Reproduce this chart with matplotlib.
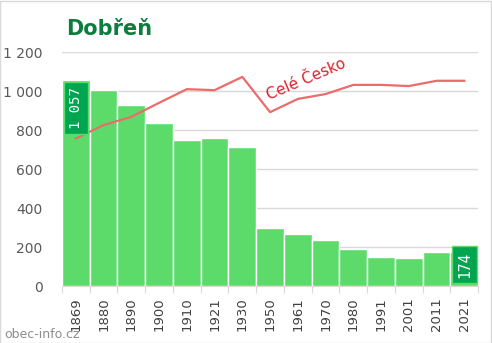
import matplotlib.pyplot as plt
from matplotlib.patches import Rectangle

years = ["1869", "1880", "1890", "1900", "1910", "1921", "1930", "1950",
         "1961", "1970", "1980", "1991", "2001", "2011", "2021"]
population = [1057, 1005, 930, 837, 749, 759, 713, 299,
              265, 237, 188, 150, 145, 173, 174]
# whole country, rescaled to the municipality
cesko = [757, 826, 868, 940, 1010, 1005, 1073, 892,
         960, 985, 1032, 1032, 1026, 1053, 1053]
yticks = [0, 200, 400, 600, 800, 1000, 1200]
ytick_labels = ["0", "200", "400", "600", "800", "1 000", "1 200"]

fig = plt.figure(figsize=(4.92, 3.43), dpi=100)
ax = fig.add_axes([0.126, 0.166, 0.846, 0.682])

x = list(range(len(years)))
ax.bar(x, population, width=1.0, color="#5cdb6a", edgecolor="white", linewidth=1, zorder=2)
ax.plot(x, cesko, color="#ec6b6b", linewidth=1.6, zorder=3, clip_on=False)

ax.set_xlim(-0.5, len(years) - 0.5)
ax.set_ylim(0, 1200)
ax.set_yticks(yticks)
ax.set_yticklabels(ytick_labels)
ax.grid(axis="y", color="#d9d9d9", linewidth=1, zorder=0)
ax.set_axisbelow(True)

ax.set_xticks([i - 0.5 for i in range(len(years) + 1)], minor=False)
ax.set_xticklabels([])
ax.set_xticks(x, minor=True)
ax.set_xticklabels(years, minor=True, rotation=90)
ax.tick_params(axis="x", which="major", length=5, color="#d9d9d9")
ax.tick_params(axis="x", which="minor", length=0, labelsize=9.5, labelcolor="#404040", pad=8)
ax.tick_params(axis="y", length=0, labelsize=10, labelcolor="#595959", pad=14)

for s in ["top", "right", "left"]:
    ax.spines[s].set_visible(False)
ax.spines["bottom"].set_color("#d9d9d9")

# value boxes on first and last bar
box = dict(boxstyle="square,pad=0.35", facecolor="#00a550", edgecolor="#5cdb6a", linewidth=1)
ax.text(0, 913, "1 057", rotation=90, ha="center", va="center", color="white",
        fontsize=10, family="DejaVu Sans Mono", bbox=box, zorder=5)
ax.text(len(years) - 1, 110, "174", rotation=90, ha="center", va="center", color="white",
        fontsize=10.5, family="DejaVu Sans Mono", bbox=box, zorder=5)

ax.text(8.3, 1062, "Celé Česko", rotation=23, color="#e0202a", fontsize=11,
        ha="center", va="center", zorder=4)

fig.text(0.135, 0.915, "Dobřeň", fontsize=15, fontweight="bold", color="#0b7d3e",
         ha="left", va="center")
fig.text(0.008, 0.025, "obec-info.cz", fontsize=9, color="#8c8c8c", ha="left", va="center")

fig.patches.append(Rectangle((0.001, 0.001), 0.997, 0.996, transform=fig.transFigure,
                             fill=False, edgecolor="#d9d9d9", linewidth=1))

fig.savefig("out.png", dpi=100)
